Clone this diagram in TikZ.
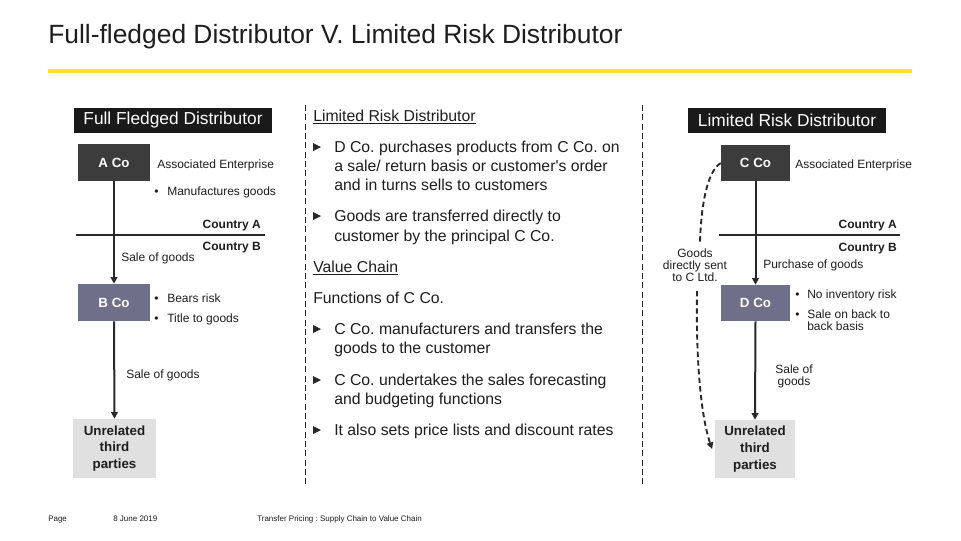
\documentclass[tikz,border=0pt]{standalone}
\usepackage{fontspec}
\setmainfont{Liberation Sans}[Ligatures=TeXOff]
\usetikzlibrary{arrows.meta}
\frenchspacing
\definecolor{ink}{RGB}{40,40,40}
\definecolor{txt}{RGB}{30,30,30}
\definecolor{hdr}{RGB}{26,26,26}
\definecolor{darkbox}{RGB}{60,60,60}
\definecolor{slate}{RGB}{110,111,136}
\definecolor{lightbox}{RGB}{224,224,224}
\definecolor{eyyellow}{RGB}{245,226,50}
\tikzset{
  hdrbox/.style={fill=hdr,text=white,inner sep=0pt,minimum width=148.5pt,minimum height=18.75pt,font=\fontsize{13}{14}\selectfont},
  cobox/.style={fill=#1,text=white,inner sep=0pt,font=\fontsize{10}{12}\selectfont\bfseries},
  unrbox/.style={fill=lightbox,text=txt,inner sep=0pt,align=center,font=\fontsize{10}{12.6}\selectfont\bfseries},
  small/.style={text=txt,inner sep=0pt,font=\fontsize{9}{9}\selectfont},
  smallb/.style={text=txt,inner sep=0pt,font=\fontsize{9}{9}\selectfont\bfseries},
  mid/.style={text=txt,inner sep=0pt,font=\fontsize{11.85}{14}\selectfont},
  flow/.style={draw=ink,line width=1.5pt,-{Triangle[length=5pt,width=5pt]}},
  border/.style={draw=ink,line width=1.1pt},
  sep/.style={draw=ink,line width=0.7pt,dash pattern=on 4.5pt off 2.5pt},
  curvy/.style={draw=ink,line width=1.4pt,dash pattern=on 4pt off 2.5pt},
  tri/.style={fill=ink},
  foot/.style={text=txt,inner sep=0pt,font=\fontsize{6}{6}\selectfont}
}
\begin{document}
\begin{tikzpicture}[x=0.75pt,y=-0.75pt]
\useasboundingbox[fill=white] (0,0) rectangle (961,540);

% title
\node[anchor=base west,inner sep=0pt,text=txt,font=\fontsize{19.8}{22}\selectfont] (title) at (48,43.5) {Full-fledged Distributor V. Limited Risk Distributor};
\draw[eyyellow,line width=2.6pt] (48,71) -- (912,71);

% separators
\draw[sep] (305,105) -- (305,485);
\draw[sep] (642,105) -- (642,485);

% ---------- left panel ----------
\node[hdrbox] (hdrL) at (173,120.5) {Full Fledged Distributor};
\node[cobox=darkbox,minimum width=54pt,minimum height=27.75pt] (aco) at (114,162.5) {A Co};
\node[cobox=slate,minimum width=54pt,minimum height=27.75pt] (bco) at (114,302.5) {B Co};
\node[unrbox,minimum width=62.25pt,minimum height=44.25pt] (unrL) at (114.5,448.5) {Unrelated\\third\\parties};

\node[small,anchor=base west] (aeL) at (157,168) {Associated Enterprise};
\node[small,anchor=base west] (bulL1) at (154,195) {\textbullet};
\node[small,anchor=base west] (mfg) at (167,195) {Manufactures goods};
\node[smallb,anchor=base east] (caL) at (261,228) {Country A};
\node[smallb,anchor=base east] (cbL) at (261,250) {Country B};
\coordinate (lineLa) at (76,235);
\coordinate (lineLb) at (265,235);
\draw[border] (lineLa) -- (lineLb);
\node[small,anchor=base west] (sogL1) at (121,261) {Sale of goods};
\node[small,anchor=base west] (bulL2) at (154,302) {\textbullet};
\node[small,anchor=base west] (risk) at (167,302) {Bears risk};
\node[small,anchor=base west] (bulL3) at (154,322) {\textbullet};
\node[small,anchor=base west] (title2) at (167,322) {Title to goods};
\node[small,anchor=base west] (sogL2) at (126,378) {Sale of goods};

\draw[flow] (aco.south) -- (bco.north);
\draw[flow] (bco.south) -- (unrL.north);

% ---------- middle text ----------
\node[mid,anchor=base west] (lrd) at (313,121) {\underline{Limited Risk Distributor}};
\fill[tri] (313,143) -- (321,147) -- (313,151) -- cycle;
\node[mid,anchor=base west] (m1a) at (334,152) {D Co. purchases products from C Co. on};
\node[mid,anchor=base west] (m1b) at (334,171) {a sale/ return basis or customer's order};
\node[mid,anchor=base west] (m1c) at (334,190) {and in turns sells to customers};
\fill[tri] (313,212) -- (321,216) -- (313,220) -- cycle;
\node[mid,anchor=base west] (m2a) at (334,221) {Goods are transferred directly to};
\node[mid,anchor=base west] (m2b) at (334,241) {customer by the principal C Co.};
\node[mid,anchor=base west] (vc) at (313,272) {\underline{Value Chain}};
\node[mid,anchor=base west] (fn) at (313,303) {Functions of C Co.};
\fill[tri] (313,325) -- (321,329) -- (313,333) -- cycle;
\node[mid,anchor=base west] (m3a) at (334,334) {C Co. manufacturers and transfers the};
\node[mid,anchor=base west] (m3b) at (334,353) {goods to the customer};
\fill[tri] (313,376) -- (321,380) -- (313,384) -- cycle;
\node[mid,anchor=base west] (m4a) at (334,385) {C Co. undertakes the sales forecasting};
\node[mid,anchor=base west] (m4b) at (334,404) {and budgeting functions};
\fill[tri] (313,426) -- (321,430) -- (313,434) -- cycle;
\node[mid,anchor=base west] (m5) at (334,435) {It also sets price lists and discount rates};

% ---------- right panel ----------
\node[hdrbox] (hdrR) at (787,120.5) {Limited Risk Distributor};
\node[cobox=darkbox,minimum width=51.75pt,minimum height=27pt] (cco) at (755.5,163) {C Co};
\node[cobox=slate,minimum width=51.75pt,minimum height=27pt] (dco) at (755.5,303) {D Co};
\node[unrbox,minimum width=60pt,minimum height=43.5pt] (unrR) at (755,449) {Unrelated\\third\\parties};

\node[small,anchor=base west] (aeR) at (795,168) {Associated Enterprise};
\node[smallb,anchor=base east] (caR) at (897,228) {Country A};
\node[smallb,anchor=base east] (cbR) at (897,251) {Country B};
\coordinate (lineRa) at (719,235);
\coordinate (lineRb) at (900,235);
\draw[border] (lineRa) -- (lineRb);
\node[small,anchor=base west] (pog) at (763,268) {Purchase of goods};
\node[small,anchor=base west] (bulR1) at (795,298) {\textbullet};
\node[small,anchor=base west] (noinv) at (807,298) {No inventory risk};
\node[small,anchor=base west] (bulR2) at (795,318) {\textbullet};
\node[small,anchor=base west] (b2b1) at (807,318) {Sale on back to};
\node[small,anchor=base west] (b2b2) at (807,330) {back basis};
\node[small,align=center,font=\fontsize{9}{9}\selectfont] (sogR) at (794,376) {Sale of\\goods};
\node[small,align=center,font=\fontsize{9}{9}\selectfont] (gds) at (695,265) {Goods\\directly sent\\to C Ltd.};

\draw[flow] (cco.south) -- (dco.north);
\draw[flow] (dco.south) -- (unrR.north);

\coordinate (gtop) at (700,242);
\coordinate (gbot) at (697,291);
\draw[curvy] (cco.west) .. controls (706,172) and (701,210) .. (gtop);
\draw[curvy,-{Triangle[length=5pt,width=5pt]}] (gbot) .. controls (696,345) and (699,410) .. ([xshift=-2pt]unrR.west);

% footer
\node[foot,anchor=base west] (pg) at (48,521) {Page};
\node[foot,anchor=base west] (dt) at (113,521) {8 June 2019};
\node[foot,anchor=base west] (tp) at (257,521) {Transfer Pricing : Supply Chain to Value Chain};
\end{tikzpicture}
\end{document}
